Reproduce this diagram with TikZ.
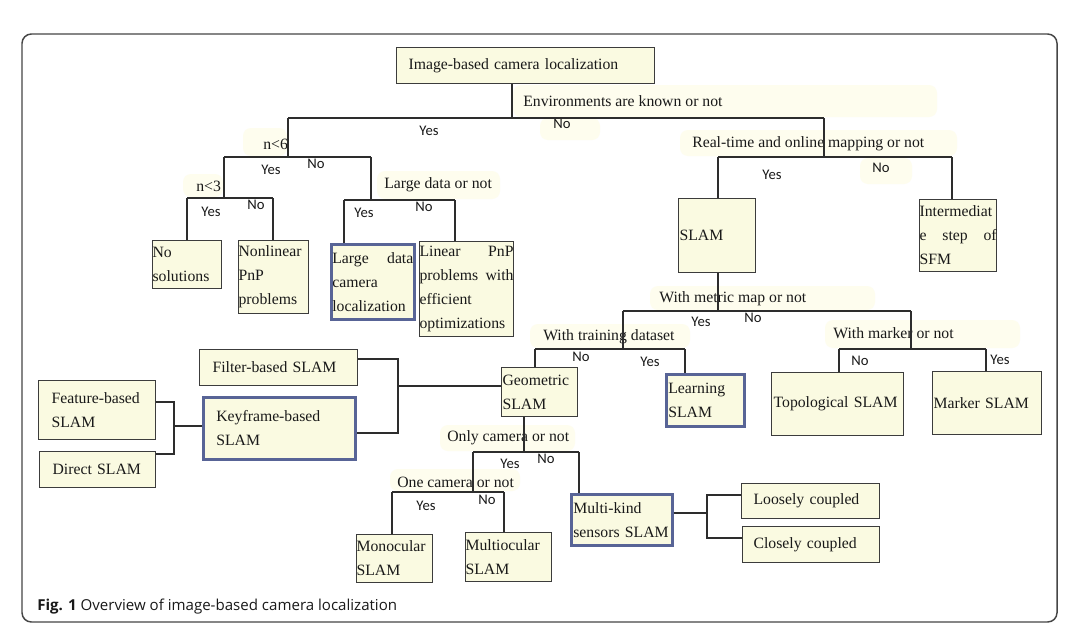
\documentclass[tikz,border=0pt]{standalone}
\usepackage{fontspec}
\setmainfont{Liberation Serif}
\newfontfamily\yesnofont{Carlito}
\newfontfamily\capfont{Open Sans}
\newcommand\jfill{\hspace{\fill}}
\definecolor{boxfill}{RGB}{250,250,225}
\definecolor{boxline}{RGB}{60,60,60}
\definecolor{bluebd}{RGB}{88,100,150}
\definecolor{conncol}{RGB}{45,45,45}
\definecolor{hlcol}{RGB}{254,253,238}
\definecolor{framecol}{RGB}{70,70,70}
\definecolor{txtcol}{RGB}{25,25,25}
\tikzset{
  bx/.style n args={3}{draw=boxline, fill=boxfill, line width=0.9pt, anchor=north west,
    minimum width=#1*0.75pt, minimum height=#2*0.75pt, inner xsep=#3*0.75pt, inner ysep=0pt,
    text width=#1*0.75pt-2*#3*0.75pt, align=left, text=txtcol,
    font=\fontsize{11.8}{18}\selectfont},
  bluebox/.style={draw=bluebd, line width=2pt},
  conn/.style={draw=conncol, line width=0.9pt},
  lab/.style={anchor=west, inner sep=0pt, text=txtcol, font=\fontsize{11.8}{14}\selectfont},
  yn/.style={inner sep=0pt, text=txtcol, font=\yesnofont\fontsize{11}{13}\selectfont},
  hl/.style={fill=hlcol, draw=none, rounded corners=6pt},
}
\begin{document}
\begin{tikzpicture}[x=0.75pt,y=-0.75pt]
\useasboundingbox (0,0) rectangle (1080,639);
\fill[white] (0,0) rectangle (1080,639);
% frame
\draw[rounded corners=7pt, line width=1.1pt, draw=framecol] (22,34) rectangle (1057,622);

% faint highlights behind labels
\fill[hl] (513,85) rectangle (937,117);
\fill[hl] (540,118) rectangle (600,140);
\fill[hl] (680,130) rectangle (957,156);
\fill[hl] (860,158) rectangle (912,184);
\fill[hl] (243,128) rectangle (287,156);
\fill[hl] (183,174) rectangle (223,197);
\fill[hl] (377,171) rectangle (500,199);
\fill[hl] (650,286) rectangle (875,310);
\fill[hl] (530,324) rectangle (690,348);
\fill[hl] (825,320) rectangle (1020,348);
\fill[hl] (440,425) rectangle (575,451);
\fill[hl] (390,469) rectangle (520,491);

% boxes
\node[bx={258}{36}{12}] (top) at (396,47) {Image-based camera localization};
\node[bx={69}{48}{0}] (nosol) at (152,240) {No\\solutions};
\node[bx={70}{73}{0}] (nonlin) at (238,240) {Nonlinear\\PnP\\problems};
\node[bx={83}{75}{1},bluebox] (large) at (330,243) {Large\jfill data\\camera\\localization};
\node[bx={94}{95}{0}] (linear) at (419,241) {Linear\jfill PnP\\problems\jfill with\\efficient\\optimizations};
\node[bx={77}{74}{1}] (slam) at (678,198) {SLAM};
\node[bx={77}{72}{0}] (inter) at (919,199) {Intermediat\\e\jfill step\jfill of\\SFM};
\node[bx={76}{49}{1}] (geo) at (501,367) {Geometric\\SLAM};
\node[bx={78}{52}{2},bluebox] (learn) at (665,373) {Learning\\SLAM};
\node[bx={132}{63}{2}] (topo) at (771,372) {Topological SLAM};
\node[bx={109}{63}{1}] (marker) at (932,371) {Marker SLAM};
\node[bx={158}{36}{13}] (filter) at (199,349) {Filter-based SLAM};
\node[bx={152}{62}{13},bluebox] (key) at (202,396) {Keyframe-based\\SLAM};
\node[bx={117}{59}{13}] (feature) at (38,380) {Feature-based\\SLAM};
\node[bx={116}{36}{13}] (direct) at (39,451) {Direct SLAM};
\node[bx={76}{48}{0}] (mono) at (356,534) {Monocular\\SLAM};
\node[bx={86}{49}{0}] (multi) at (465,532) {Multiocular\\SLAM};
\node[bx={101}{51}{2},bluebox] (mk) at (570,493) {Multi-kind\\sensors SLAM};
\node[bx={138}{35}{12}] (loose) at (741,483) {Loosely coupled};
\node[bx={137}{36}{11}] (close) at (742,526) {Closely coupled};

% serif labels
\node[lab] (lenv) at (523,101) {Environments are known or not};
\node[lab] (lrt) at (692,144) {Real-time and online mapping or not};
\node[lab] (ln6) at (263,144) {n<6};
\node[lab] (ln3) at (196,186) {n<3};
\node[lab] (llarge) at (384,185) {Large data or not};
\node[lab] (lmetric) at (659,299) {With metric map or not};
\node[lab] (ltrain) at (543,337) {With training dataset};
\node[lab] (lmarker) at (833,333) {With marker or not};
\node[lab] (lonly) at (447,438) {Only camera or not};
\node[lab] (lone) at (397,482) {One camera or not};

% yes / no labels
\node[yn] (y1) at (429,131) {Yes};
\node[yn] (n1) at (562,124) {No};
\node[yn] (y2) at (271,170) {Yes};
\node[yn] (n2) at (316,164) {No};
\node[yn] (y3) at (211,212) {Yes};
\node[yn] (n3) at (256,205) {No};
\node[yn] (y4) at (364,213) {Yes};
\node[yn] (n4) at (424,207) {No};
\node[yn] (y5) at (772,175) {Yes};
\node[yn] (n5) at (881,168) {No};
\node[yn] (y6) at (701,322) {Yes};
\node[yn] (n6) at (753,318) {No};
\node[yn] (n7) at (581,357) {No};
\node[yn] (y7) at (650,362) {Yes};
\node[yn] (n8) at (860,361) {No};
\node[yn] (y8) at (1000,360) {Yes};
\node[yn] (y9) at (510,464) {Yes};
\node[yn] (n9) at (546,459) {No};
\node[yn] (y10) at (426,506) {Yes};
\node[yn] (n10) at (487,500) {No};

% junction coordinates
\coordinate (Am) at (512,118); \coordinate (Al) at (288,118); \coordinate (Ar) at (824,118);
\coordinate (Bm) at (288,157); \coordinate (Bl) at (224,157); \coordinate (Br) at (371,157);
\coordinate (Cm) at (224,198); \coordinate (Cl) at (187,198); \coordinate (Cr) at (273,198);
\coordinate (Dm) at (371,200); \coordinate (Dl) at (344,200); \coordinate (Dr) at (455,200);
\coordinate (Em) at (824,157); \coordinate (El) at (718,157); \coordinate (Er) at (952,157);
\coordinate (Fm) at (718,311); \coordinate (Fl) at (623,311); \coordinate (Fr) at (911,311);
\coordinate (Gm) at (623,349); \coordinate (Gl) at (535,349); \coordinate (Gr) at (685,349);
\coordinate (Hm) at (911,349); \coordinate (Hl) at (839,349); \coordinate (Hr) at (986,349);
\coordinate (Im) at (524,452); \coordinate (Il) at (473,452); \coordinate (Ir) at (579,452);
\coordinate (Jm) at (473,492); \coordinate (Jl) at (392,492); \coordinate (Jr) at (504,492);
\coordinate (Km) at (707,513); \coordinate (Kt) at (707,495); \coordinate (Kb) at (707,538);
\coordinate (Lt) at (398,359); \coordinate (Lb) at (398,433); \coordinate (Lm) at (398,386);
\coordinate (Mt) at (174,402); \coordinate (Mb) at (174,454); \coordinate (Mm) at (174,426);

% connectors
\draw[conn] (top.south -| Am) -- (Am);
\draw[conn] (Al) -- (Ar);
\draw[conn] (Al) -- (Bm);
\draw[conn] (Bl) -- (Br);
\draw[conn] (Bl) -- (Cm);
\draw[conn] (Cl) -- (Cr);
\draw[conn] (Cl) -- (nosol.north -| Cl);
\draw[conn] (Cr) -- (nonlin.north -| Cr);
\draw[conn] (Br) -- (Dm);
\draw[conn] (Dl) -- (Dr);
\draw[conn] (Dl) -- (large.north -| Dl);
\draw[conn] (Dr) -- (linear.north -| Dr);
\draw[conn] (Ar) -- (Em);
\draw[conn] (El) -- (Er);
\draw[conn] (El) -- (slam.north -| El);
\draw[conn] (Er) -- (inter.north -| Er);
\draw[conn] (slam.south -| Fm) -- (Fm);
\draw[conn] (Fl) -- (Fr);
\draw[conn] (Fl) -- (Gm);
\draw[conn] (Gl) -- (Gr);
\draw[conn] (Gl) -- (geo.north -| Gl);
\draw[conn] (Gr) -- (learn.north -| Gr);
\draw[conn] (Fr) -- (Hm);
\draw[conn] (Hl) -- (Hr);
\draw[conn] (Hl) -- (topo.north -| Hl);
\draw[conn] (Hr) -- (marker.north -| Hr);
\draw[conn] (geo.south -| Im) -- (Im);
\draw[conn] (Il) -- (Ir);
\draw[conn] (Ir) -- (mk.north -| Ir);
\draw[conn] (Il) -- (Jm);
\draw[conn] (Jl) -- (Jr);
\draw[conn] (Jl) -- (mono.north -| Jl);
\draw[conn] (Jr) -- (multi.north -| Jr);
\draw[conn] (mk.east |- Km) -- (Km);
\draw[conn] (loose.west |- Kt) -- (Kt) -- (Kb) -- (close.west |- Kb);
\draw[conn] (filter.east |- Lt) -- (Lt) -- (Lb) -- (key.east |- Lb);
\draw[conn] (Lm) -- (geo.west |- Lm);
\draw[conn] (feature.east |- Mt) -- (Mt) -- (Mb) -- (direct.east |- Mb);
\draw[conn] (Mm) -- (key.west |- Mm);

% caption
\node[anchor=base west, inner sep=0pt, text=txtcol, font=\capfont\fontsize{11.3}{13}\selectfont] (cap) at (37,610) {\textbf{Fig. 1} Overview of image-based camera localization};
\end{tikzpicture}
\end{document}
